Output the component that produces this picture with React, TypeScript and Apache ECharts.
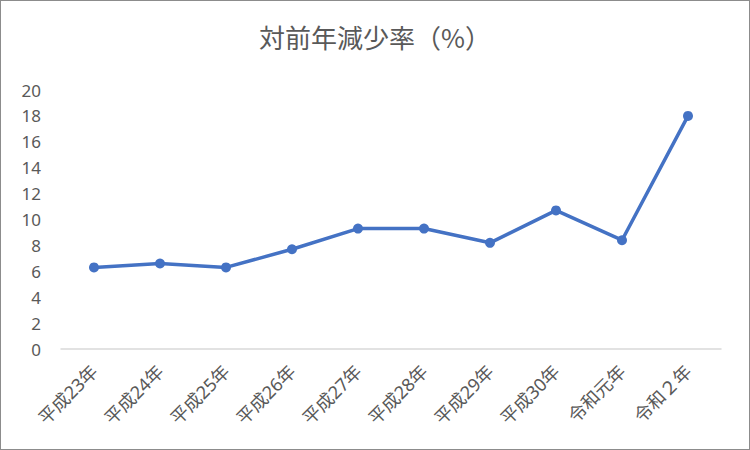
import React, { useEffect, useRef } from "react";
import * as echarts from "echarts";

const titleText = "対前年減少率（%）";
const categories = ["平成23年", "平成24年", "平成25年", "平成26年", "平成27年", "平成28年", "平成29年", "平成30年", "令和元年", "令和２年"];
const values = [6.3, 6.6, 6.3, 7.7, 9.3, 9.3, 8.2, 10.7, 8.4, 18.0];

const FONT = "'Noto Sans', 'Noto Sans CJK JP', sans-serif";

export default function App() {
  const ref = useRef<HTMLDivElement>(null);
  useEffect(() => {
    document.body.style.margin = "0";
    const chart = echarts.init(ref.current!, null, { renderer: "svg" });
    chart.setOption({
      animation: false,
      backgroundColor: "#ffffff",
      title: {
        text: titleText,
        left: "center",
        top: 17,
        textStyle: { fontFamily: "'Noto Sans CJK JP', sans-serif", fontSize: 26, fontWeight: "normal", color: "#595959" },
      },
      grid: { left: 60, right: 28, top: 89, bottom: 100, containLabel: false },
      xAxis: {
        type: "category",
        data: categories,
        boundaryGap: true,
        axisLine: { lineStyle: { color: "#d9d9d9", width: 1.5 } },
        axisTick: { show: false },
        axisLabel: {
          rotate: 45,
          margin: 19,
          interval: 0,
          fontFamily: FONT,
          fontSize: 18,
          color: "#595959",
        },
      },
      yAxis: {
        type: "value",
        min: 0,
        max: 20,
        interval: 2,
        axisLine: { show: false },
        axisTick: { show: false },
        splitLine: { show: false },
        axisLabel: { margin: 20, fontFamily: FONT, fontSize: 17, color: "#595959" },
      },
      series: [
        {
          type: "line",
          data: values,
          symbol: "circle",
          symbolSize: 10,
          lineStyle: { color: "#4472C4", width: 3.5 },
          itemStyle: { color: "#4472C4" },
        },
      ],
    });
    return () => chart.dispose();
  }, []);
  return (
    <div
      ref={ref}
      style={{
        position: "absolute",
        left: 0,
        top: 0,
        width: 750,
        height: 450,
        boxSizing: "border-box",
        border: "1px solid #8c8c8c",
      }}
    />
  );
}
